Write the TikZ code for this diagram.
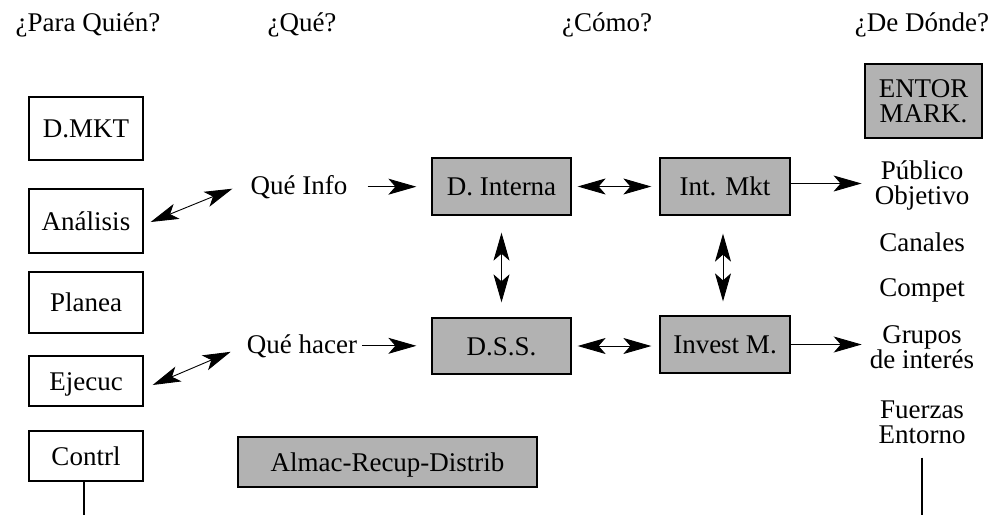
\documentclass[tikz,border=0pt]{standalone}
\usepackage{fontspec}
\setmainfont{Liberation Serif}
\usetikzlibrary{arrows.meta,calc}
\definecolor{boxgray}{gray}{0.70}
\begin{document}
\begin{tikzpicture}[x=1pt,y=-1pt,
  lbl/.style={font=\fontsize{27}{25}\selectfont, inner sep=0pt, align=center},
  caps/.style={text height=18pt, text depth=0pt},
  wbox/.style={lbl, caps, draw, line width=1.3pt, fill=white},
  gbox/.style={lbl, caps, draw, line width=1.3pt, fill=boxgray},
  head/.tip={Stealth[length=28pt,width=16pt,inset=7pt]},
  tip/.style={-head, line width=0.9pt},
  dtip/.style={head-head, line width=0.9pt},
  rule/.style={line width=1.3pt}
]
\useasboundingbox (0,0) rectangle (997,515);

% column headings
\node[lbl, anchor=base] (h1) at (88,31)  {¿Para Quién?};
\node[lbl, anchor=base] (h2) at (302,31) {¿Qué?};
\node[lbl, anchor=base] (h3) at (607,31) {¿Cómo?};
\node[lbl, anchor=base] (h4) at (922,31) {¿De Dónde?};

% left column: who
\node[wbox, minimum width=114, minimum height=63] (dmkt)   at (86,128.5) {D.MKT};
\node[wbox, minimum width=114, minimum height=64] (ana)    at (86,221)   {Análisis};
\node[wbox, minimum width=114, minimum height=61] (plan)   at (86,302.5) {Planea};
\node[wbox, minimum width=114, minimum height=50] (ejec)   at (86,381)   {Ejecuc};
\node[wbox, minimum width=114, minimum height=50] (contrl) at (86,456)   {Contrl};

% what
\node[lbl, anchor=base] (qinfo)  at (299,194) {Qué Info};
\node[lbl, anchor=base] (qhacer) at (302,353) {Qué hacer};

% how
\node[gbox, minimum width=139, minimum height=57] (dint)  at (501.5,186.5) {D. Interna};
\node[gbox, minimum width=139, minimum height=56] (dss)   at (501.5,346)   {D.S.S.};
\node[gbox, minimum width=130, minimum height=57] (imkt)  at (725,186.5)   {Int. Mkt};
\node[gbox, minimum width=130, minimum height=57] (invm)  at (725,344.5)   {Invest M.};
\node[gbox, minimum width=299, minimum height=50] (almac) at (387.5,462)   {Almac-Recup-Distrib};

% where from
\node[gbox, text height=, minimum width=117, minimum height=74] (entor) at (923.5,101) {ENTOR\\MARK.};
\node[lbl] (pub) at (922,185) {Público\\Objetivo};
\node[lbl, caps] (can) at (922,242) {Canales};
\node[lbl, caps] (com) at (922,287.5) {Compet};
\node[lbl] (gru) at (922,347) {Grupos\\de interés};
\node[lbl] (fue) at (922,422) {Fuerzas\\Entorno};

% connectors
\draw[dtip] ([xshift=7pt,yshift=-1pt]ana.east) -- ([xshift=-18pt,yshift=-2pt]qinfo.west);
\draw[dtip] ([xshift=9pt,yshift=-4pt]ejec.east) -- ([xshift=-16pt,yshift=-6pt]qhacer.west);
\draw[tip, shorten <=20pt, shorten >=15pt] (qinfo.east) -- (qinfo.east -| dint.west);
\draw[tip, shorten <=5pt, shorten >=15pt] (qhacer.east) -- (qhacer.east -| dss.west);
\draw[dtip, shorten <=6pt, shorten >=8pt] (dint.east) -- (dint.east -| imkt.west);
\draw[dtip, shorten <=6pt, shorten >=8pt] (dss.east) -- (dss.east -| invm.west);
\draw[dtip, shorten <=17pt, shorten >=15pt] (dint.south) -- (dss.north);
\draw[dtip, shorten <=18pt, shorten >=14pt] ([xshift=-2pt]imkt.south) -- ([xshift=-2pt]invm.north);
\draw[tip, shorten >=13pt] ([yshift=3pt]imkt.east) -- ([yshift=3pt]imkt.east -| pub.west);
\draw[tip, shorten >=8pt] (invm.east) -- (invm.east -| gru.west);

% lines running off the bottom edge
\coordinate (lbot) at (84,515);
\coordinate (rbot) at (922,515);
\draw[rule] ([xshift=-2pt]contrl.south) -- (lbot);
\draw[rule, shorten <=14pt] (fue.south) -- (rbot);
\end{tikzpicture}
\end{document}
